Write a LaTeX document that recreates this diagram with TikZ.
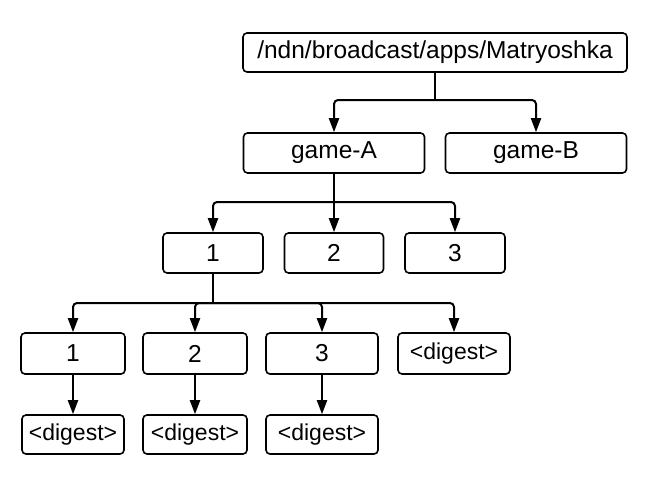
\documentclass[tikz,border=0pt]{standalone}
\usepackage{fontspec}
\setmainfont{Liberation Sans}
\usetikzlibrary{arrows.meta}
\begin{document}
\begin{tikzpicture}[x=1pt,y=-1pt,
  box/.style={draw=black,line width=1.6pt,rounded corners=4pt,inner sep=0pt,
    font=\fontsize{24.5}{28}\selectfont,align=center},
  dbox/.style={box,font=\fontsize{23}{27}\selectfont},
  conn/.style={line width=2pt,draw=black},
  arr/.style={conn,rounded corners=4pt,-{Triangle[length=14pt,width=10pt]}}]
\useasboundingbox (0,0) rectangle (660,490);
\node[box,minimum width=384pt,minimum height=39pt] (root) at (435,52.5) {/ndn/broadcast/apps/Matryoshka};
\node[box,minimum width=181pt,minimum height=40pt] (gA) at (334,153) {game-A};
\node[box,minimum width=181pt,minimum height=40pt] (gB) at (536,153) {game-B};
\node[box,minimum width=100pt,minimum height=40pt] (a1) at (213,253) {1};
\node[box,minimum width=99pt,minimum height=40pt] (a2) at (334,253) {2};
\node[box,minimum width=100pt,minimum height=40pt] (a3) at (455,253) {3};
\node[box,minimum width=104pt,minimum height=41pt] (b1) at (73,353.5) {1};
\node[box,minimum width=104pt,minimum height=41pt] (b2) at (195,353.5) {2};
\node[box,minimum width=112pt,minimum height=41pt] (b3) at (322,353.5) {3};
\node[dbox,minimum width=112pt,minimum height=41pt] (b4) at (454,353.5) {<digest>};
\node[dbox,minimum width=102pt,minimum height=39pt] (c1) at (73,434.5) {<digest>};
\node[dbox,minimum width=104pt,minimum height=39pt] (c2) at (195,434.5) {<digest>};
\node[dbox,minimum width=112pt,minimum height=39pt] (c3) at (322,434.5) {<digest>};
\coordinate (j0) at (435,100);
\coordinate (j1) at (334,202);
\coordinate (j2) at (213,303);
\draw[conn] (root.south) -- (j0);
\draw[arr] (j0) -| (gA.north);
\draw[arr] (j0) -| (gB.north);
\draw[conn] (gA.south) -- (j1);
\draw[arr] (j1) -| (a1.north);
\draw[arr] (j1) -- (a2.north);
\draw[arr] (j1) -| (a3.north);
\draw[conn] (a1.south) -- (j2);
\draw[arr] (j2) -| (b1.north);
\draw[arr] (j2) -| (b2.north);
\draw[arr] (j2) -| (b3.north);
\draw[arr] (j2) -| (b4.north);
\draw[arr] (b1.south) -- (c1.north);
\draw[arr] (b2.south) -- (c2.north);
\draw[arr] (b3.south) -- (c3.north);
\end{tikzpicture}
\end{document}
